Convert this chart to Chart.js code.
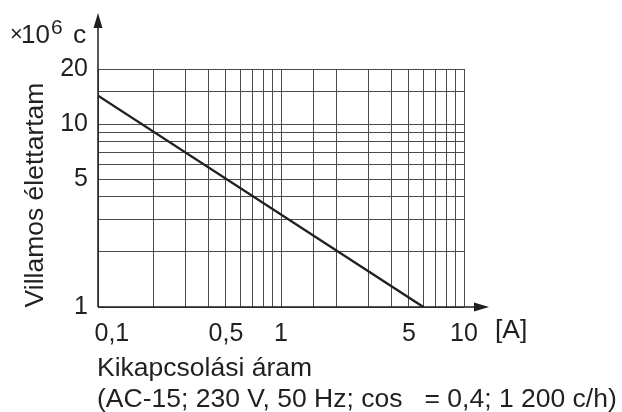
<!DOCTYPE html>
<html>
<head>
<meta charset="utf-8">
<script src="https://cdn.jsdelivr.net/npm/chart.js@4/dist/chart.umd.min.js"></script>
<style>
  body { margin: 0; background: #fff; }
  #wrap { width: 622px; height: 412px; }
</style>
</head>
<body>
<div id="wrap"><canvas id="lifeChart" width="622" height="412"></canvas></div>
<script>
// Data
const currentA = [0.1, 6];          // switched current [A]
const lifeMillion = [14.3, 1];      // electrical life [x10^6 cycles]
const xTickValues = [0.1, 0.5, 1, 5, 10];
const xTickLabels = ["0,1", "0,5", "1", "5", "10"];
const yTickValues = [1, 5, 10, 20];
const yTickLabels = ["1", "5", "10", "20"];

const ink = "#231f20";
const fontFamily = '"Liberation Sans", Arial, sans-serif';

Chart.defaults.font.family = fontFamily;
Chart.defaults.font.size = 25;
Chart.defaults.color = ink;

// find the label for a log tick (values can carry float noise)
function pickLabel(value, values, labels) {
    const i = values.findIndex(v => Math.abs(v - value) < 1e-9 * Math.max(1, v));
    return i >= 0 ? labels[i] : "";
}

// axis arrows and the free texts around the plot
const annotate = {
    id: "annotate",
    afterDraw(chart) {
        const { ctx, chartArea: a } = chart;
        ctx.save();
        ctx.strokeStyle = ink;
        ctx.fillStyle = ink;
        ctx.lineWidth = 1.5;

        // axes
        ctx.beginPath();
        ctx.moveTo(a.left, a.bottom);
        ctx.lineTo(a.left, 26);
        ctx.moveTo(a.left, a.bottom);
        ctx.lineTo(476, a.bottom);
        ctx.stroke();

        // arrow heads
        ctx.beginPath();
        ctx.moveTo(a.left, 13);
        ctx.lineTo(a.left - 4.5, 28);
        ctx.lineTo(a.left + 4.5, 28);
        ctx.closePath();
        ctx.fill();
        ctx.beginPath();
        ctx.moveTo(489, a.bottom);
        ctx.lineTo(474, a.bottom - 4.5);
        ctx.lineTo(474, a.bottom + 4.5);
        ctx.closePath();
        ctx.fill();

        // unit at the top of the y axis
        ctx.textAlign = "left";
        ctx.textBaseline = "alphabetic";
        ctx.font = "22px " + fontFamily;
        ctx.fillText("×", 10, 41);
        ctx.font = "26px " + fontFamily;
        ctx.fillText("10", 21, 43);
        ctx.font = "21px " + fontFamily;
        ctx.fillText("6", 51, 34);
        ctx.font = "26.5px " + fontFamily;
        ctx.fillText("c", 73, 43);

        // unit at the end of the x axis
        ctx.fillText("[A]", 495, 338);

        // x title, two lines, left aligned
        ctx.fillText("Kikapcsolási áram", 97, 376);
        ctx.fillText("(AC-15; 230 V, 50 Hz; cos   = 0,4; 1 200 c/h)", 97, 407);

        // y title, rotated
        ctx.translate(43, 195);
        ctx.rotate(-Math.PI / 2);
        ctx.textAlign = "center";
        ctx.fillText("Villamos élettartam", 0, 0);
        ctx.restore();
    }
};

new Chart(document.getElementById("lifeChart"), {
    type: "line",
    data: {
        datasets: [{
            data: currentA.map((x, i) => ({ x: x, y: lifeMillion[i] })),
            borderColor: ink,
            borderWidth: 2.4,
            pointRadius: 0,
            tension: 0
        }]
    },
    options: {
        responsive: false,
        animation: false,
        layout: { padding: { left: 0, top: 69, right: 158, bottom: 0 } },
        plugins: { legend: { display: false }, tooltip: { enabled: false } },
        scales: {
            x: {
                type: "logarithmic",
                min: 0.1,
                max: 10,
                border: { display: false },
                grid: { color: "#4a4a4a", lineWidth: 1, drawTicks: false },
                ticks: {
                    autoSkip: false,
                    maxRotation: 0,
                    padding: 12,
                    // first label sits a bit right of the axis, clear of the y labels
                    callback: (v, i) => (i === 0 ? "    " : "") + pickLabel(v, xTickValues, xTickLabels)
                },
                afterFit: s => { s.height = 105; }
            },
            y: {
                type: "logarithmic",
                min: 1,
                max: 20,
                border: { display: false },
                grid: { color: "#4a4a4a", lineWidth: 1, drawTicks: false },
                ticks: {
                    autoSkip: false,
                    padding: 10,
                    callback: v => pickLabel(v, yTickValues, yTickLabels)
                },
                afterFit: s => { s.width = 98; }
            }
        }
    },
    plugins: [annotate]
});
</script>
</body>
</html>
